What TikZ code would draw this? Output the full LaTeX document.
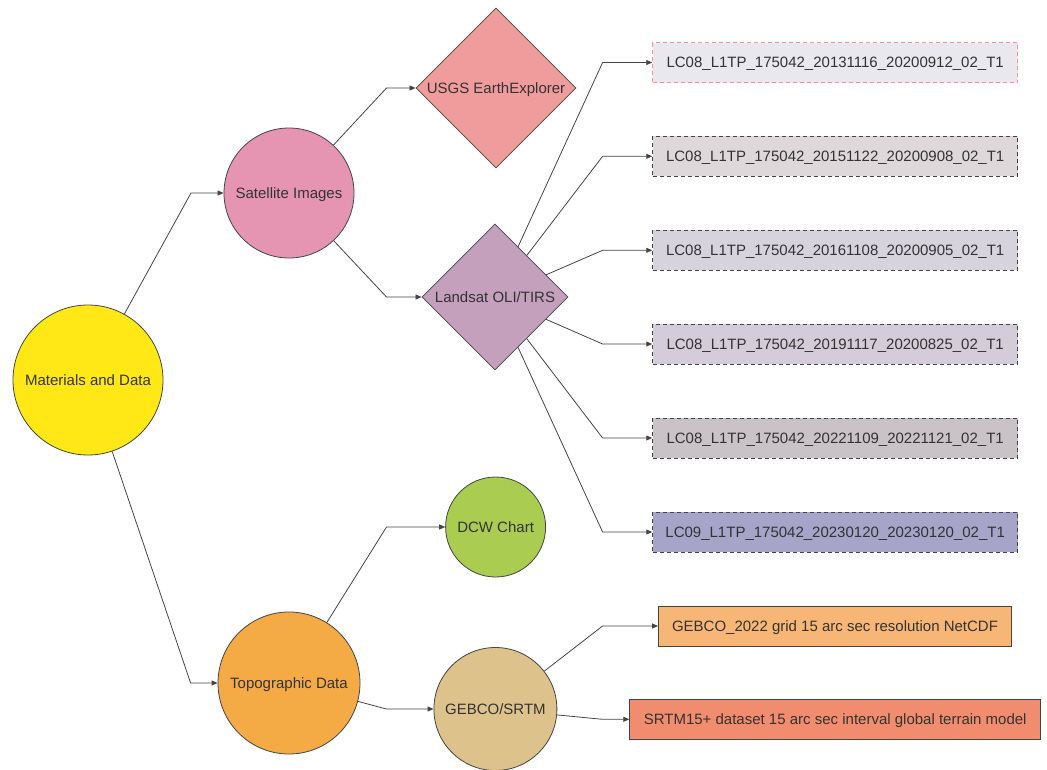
\documentclass[tikz,border=0pt]{standalone}
\usepackage{fontspec}
\setmainfont{Liberation Sans}
\usetikzlibrary{shapes.geometric,arrows.meta}
\definecolor{linegray}{HTML}{444444}
\definecolor{txtgray}{HTML}{333333}
\definecolor{cMD}{HTML}{FFE815}
\definecolor{cSI}{HTML}{E594B1}
\definecolor{cUS}{HTML}{F19C9C}
\definecolor{cLS}{HTML}{C4A0BD}
\definecolor{cDC}{HTML}{AACC50}
\definecolor{cTD}{HTML}{F4AA45}
\definecolor{cGS}{HTML}{DEC28C}
\definecolor{cB1}{HTML}{E9E8EE}
\definecolor{cB2}{HTML}{DED8DA}
\definecolor{cB3}{HTML}{D7D3DD}
\definecolor{cB4}{HTML}{D4CCD8}
\definecolor{cB5}{HTML}{C9C3C8}
\definecolor{cB6}{HTML}{A6A4C8}
\definecolor{cG1}{HTML}{F8B676}
\definecolor{cG2}{HTML}{F28C6E}
\definecolor{redash}{HTML}{FF8F8F}
\begin{document}
\begin{tikzpicture}[x=1pt,y=-1pt,
  lbl/.style={text=txtgray, font=\fontsize{15}{18}\selectfont, inner sep=0pt, text height=10.7pt, text depth=0pt},
  circ/.style={lbl, circle, draw=linegray, line width=0.8pt},
  dia/.style={lbl, diamond, aspect=1, draw=linegray, line width=0.8pt},
  filebox/.style={lbl, rectangle, draw=linegray, line width=0.9pt, dash pattern=on 4pt off 3pt, minimum width=365pt, minimum height=40pt},
  solidbox/.style={lbl, rectangle, draw=linegray, line width=0.9pt, minimum height=40pt},
  conn/.style={draw=linegray, line width=0.8pt, -{Triangle[length=6pt,width=5pt]}}]
\useasboundingbox (0,0) rectangle (1047,769);
% main nodes
\node[circ, fill=cMD, minimum size=150pt] (MD) at (88,380) {Materials and Data};
\node[circ, fill=cSI, minimum size=130pt] (SI) at (289,193) {Satellite Images};
\node[circ, fill=cTD, minimum size=142pt] (TD) at (289,683) {Topographic Data};
\node[dia, fill=cUS, minimum width=160pt, minimum height=160pt] (US) at (496,88) {USGS EarthExplorer};
\node[dia, fill=cLS, minimum width=146pt, minimum height=146pt] (LS) at (495,297) {Landsat OLI/TIRS};
\node[circ, fill=cDC, minimum size=100pt] (DC) at (495.6,527) {DCW Chart};
\node[circ, fill=cGS, minimum size=123pt] (GS) at (495.4,709) {GEBCO/SRTM};
% file boxes
\node[filebox, fill=cB1, draw=redash] (B1) at (835.2,62.5) {LC08\_L1TP\_175042\_20131116\_20200912\_02\_T1};
\node[filebox, fill=cB2] (B2) at (835.2,156.3) {LC08\_L1TP\_175042\_20151122\_20200908\_02\_T1};
\node[filebox, fill=cB3] (B3) at (835.2,250.3) {LC08\_L1TP\_175042\_20161108\_20200905\_02\_T1};
\node[filebox, fill=cB4] (B4) at (835.2,344) {LC08\_L1TP\_175042\_20191117\_20200825\_02\_T1};
\node[filebox, fill=cB5] (B5) at (835.2,438) {LC08\_L1TP\_175042\_20221109\_20221121\_02\_T1};
\node[filebox, fill=cB6] (B6) at (835.2,532) {LC09\_L1TP\_175042\_20230120\_20230120\_02\_T1};
\node[solidbox, fill=cG1, minimum width=353pt] (G1) at (835,626) {GEBCO\_2022 grid 15 arc sec resolution NetCDF};
\node[solidbox, fill=cG2, minimum width=411pt] (G2) at (835.2,719.3) {SRTM15+ dataset 15 arc sec interval global terrain model};
% bend points
\coordinate (bMS) at (191,193);
\coordinate (bMT) at (190.6,683);
\coordinate (bSU) at (386.5,88);
\coordinate (bSL) at (386.5,297);
\coordinate (bTD) at (386.5,527);
\coordinate (bTG) at (386.5,709);
\coordinate (bL1) at (602.6,62.5);
\coordinate (bL2) at (602.6,156.3);
\coordinate (bL3) at (602.6,250.3);
\coordinate (bL4) at (602.6,344);
\coordinate (bL5) at (602.6,438);
\coordinate (bL6) at (602.6,532);
\coordinate (bG1) at (602.6,626);
\coordinate (bG2) at (602.6,719.3);
% connectors
\draw[conn] (MD) -- (bMS) -- (SI);
\draw[conn] (MD) -- (bMT) -- (TD);
\draw[conn] (SI) -- (bSU) -- (US);
\draw[conn] (SI) -- (bSL) -- (LS);
\draw[conn] (TD) -- (bTD) -- (DC);
\draw[conn] (TD) -- (bTG) -- (GS);
\draw[conn] (LS) -- (bL1) -- (B1);
\draw[conn] (LS) -- (bL2) -- (B2);
\draw[conn] (LS) -- (bL3) -- (B3);
\draw[conn] (LS) -- (bL4) -- (B4);
\draw[conn] (LS) -- (bL5) -- (B5);
\draw[conn] (LS) -- (bL6) -- (B6);
\draw[conn] (GS) -- (bG1) -- (G1);
\draw[conn] (GS) -- (bG2) -- (G2);
\end{tikzpicture}
\end{document}
